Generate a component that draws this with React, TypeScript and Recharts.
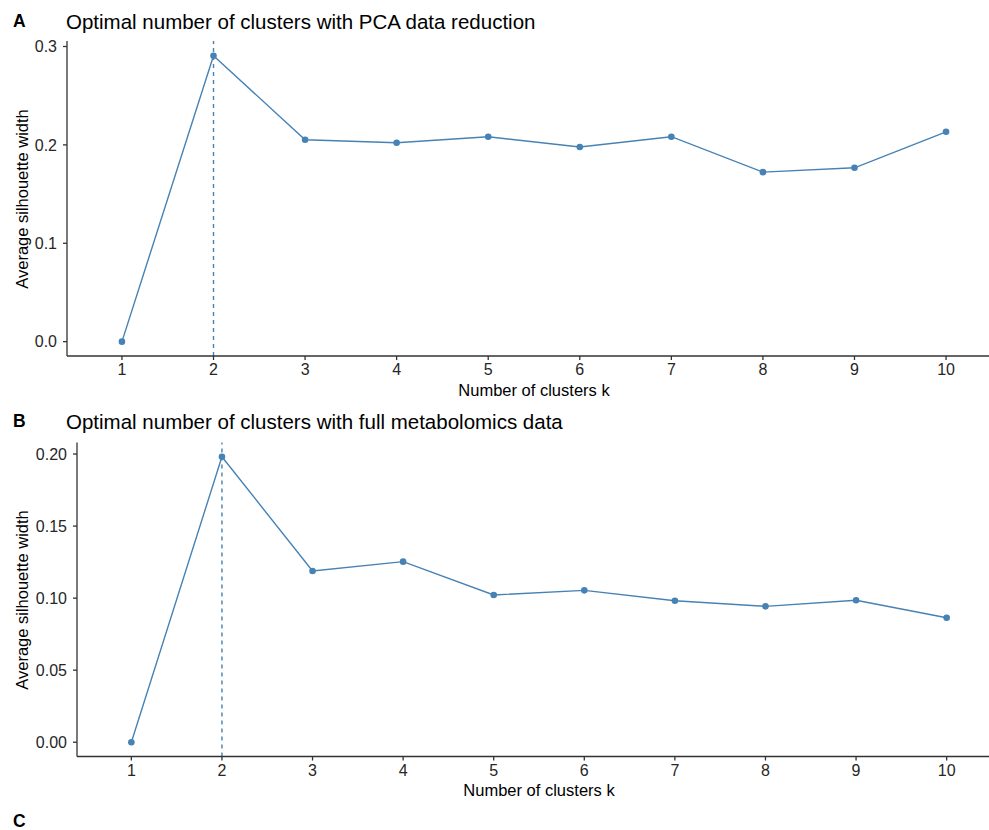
import { LineChart, Line, XAxis, YAxis, ReferenceLine } from 'recharts';

const clusterK = [1, 2, 3, 4, 5, 6, 7, 8, 9, 10];
const silhouettePca = [0, 0.2906, 0.2052, 0.2022, 0.2083, 0.1978, 0.2083, 0.1723, 0.1767, 0.2133];
const silhouetteFull = [0, 0.1981, 0.1188, 0.1253, 0.1022, 0.1054, 0.0982, 0.0943, 0.0985, 0.0864];
const ticksPca = [0, 0.1, 0.2, 0.3];
const ticksFull = [0, 0.05, 0.1, 0.15, 0.2];
const optimalK = 2;

const BLUE = '#4682B4';
const AXIS = '#333333';
const FONT = '"Liberation Sans", Arial, Helvetica, sans-serif';

type PanelProps = {
  top: number;
  letter: string;
  title: string;
  values: number[];
  ticks: number[];
  domain: [number, number];
  digits: number;
  yAxisWidth: number;
  marginTop: number;
  xAxisHeight: number;
};

function Panel({ top, letter, title, values, ticks, domain, digits, yAxisWidth, marginTop, xAxisHeight }: PanelProps) {
  const data = clusterK.map((k, i) => ({ k, v: values[i] }));
  const tickStyle = { fill: '#262626', fontSize: 16, fontFamily: FONT };
  return (
    <div style={{ position: 'absolute', left: 0, top, width: 1010, height: 400 }}>
      <div style={{ position: 'absolute', left: 13, top: 13, fontSize: 17.5, lineHeight: '17.5px', fontWeight: 'bold', fontFamily: FONT, color: '#000' }}>
        {letter}
      </div>
      <div style={{ position: 'absolute', left: 66, top: 12, fontSize: 20.5, lineHeight: '20.5px', fontFamily: FONT, color: '#000', whiteSpace: 'nowrap' }}>
        {title}
      </div>
      <div
        style={{
          position: 'absolute', left: 22, top: (marginTop + 400 - xAxisHeight) / 2, width: 0, height: 0,
        }}
      >
        <div
          style={{
            position: 'absolute', left: 0, top: 0, transform: 'translate(-50%, -50%) rotate(-90deg)',
            fontSize: 16.5, lineHeight: '16.5px', fontFamily: FONT, color: '#000', whiteSpace: 'nowrap',
          }}
        >
          Average silhouette width
        </div>
      </div>
      <div
        style={{
          position: 'absolute', left: yAxisWidth, width: 1001 - yAxisWidth, top: 381.5, textAlign: 'center',
          fontSize: 16.5, lineHeight: '16.5px', fontFamily: FONT, color: '#000', whiteSpace: 'nowrap',
        }}
      >
        Number of clusters k
      </div>
      <div style={{ position: 'absolute', left: 0, top: 0 }}>
        <LineChart width={1010} height={400} data={data} margin={{ top: marginTop, right: 9, bottom: 0, left: 0 }}>
          <XAxis
            dataKey="k"
            type="number"
            domain={[0.4, 10.6]}
            ticks={clusterK}
            allowDataOverflow
            height={xAxisHeight}
            tick={tickStyle}
            tickSize={4}
            tickMargin={4}
            axisLine={{ stroke: AXIS, strokeWidth: 1.3 }}
            tickLine={{ stroke: AXIS, strokeWidth: 1.3 }}
          />
          <YAxis
            type="number"
            domain={domain}
            ticks={ticks}
            allowDataOverflow
            width={yAxisWidth}
            tick={tickStyle}
            tickSize={4}
            tickMargin={6}
            tickFormatter={(v: number) => v.toFixed(digits)}
            axisLine={{ stroke: AXIS, strokeWidth: 1.3 }}
            tickLine={{ stroke: AXIS, strokeWidth: 1.3 }}
          />
          <ReferenceLine x={optimalK} stroke={BLUE} strokeWidth={1.4} strokeDasharray="4 4" />
          <Line
            dataKey="v"
            stroke={BLUE}
            strokeWidth={1.4}
            dot={{ r: 3.3, fill: BLUE, stroke: BLUE, strokeWidth: 0 }}
            activeDot={false}
            isAnimationActive={false}
          />
        </LineChart>
      </div>
    </div>
  );
}

export default function App() {
  return (
    <div style={{ position: 'absolute', left: 0, top: 0, width: 989, height: 830, overflow: 'hidden', background: '#fff' }}>
      <Panel
        top={0}
        letter="A"
        title="Optimal number of clusters with PCA data reduction"
        values={silhouettePca}
        ticks={ticksPca}
        domain={[-0.0146, 0.3056]}
        digits={1}
        yAxisWidth={67}
        marginTop={41}
        xAxisHeight={44}
      />
      <Panel
        top={400}
        letter="B"
        title="Optimal number of clusters with full metabolomics data"
        values={silhouetteFull}
        ticks={ticksFull}
        domain={[-0.0099, 0.208]}
        digits={2}
        yAxisWidth={77}
        marginTop={42.5}
        xAxisHeight={43.5}
      />
      <div style={{ position: 'absolute', left: 13, top: 813, fontSize: 17.5, lineHeight: '17.5px', fontWeight: 'bold', fontFamily: FONT, color: '#000' }}>
        C
      </div>
    </div>
  );
}
